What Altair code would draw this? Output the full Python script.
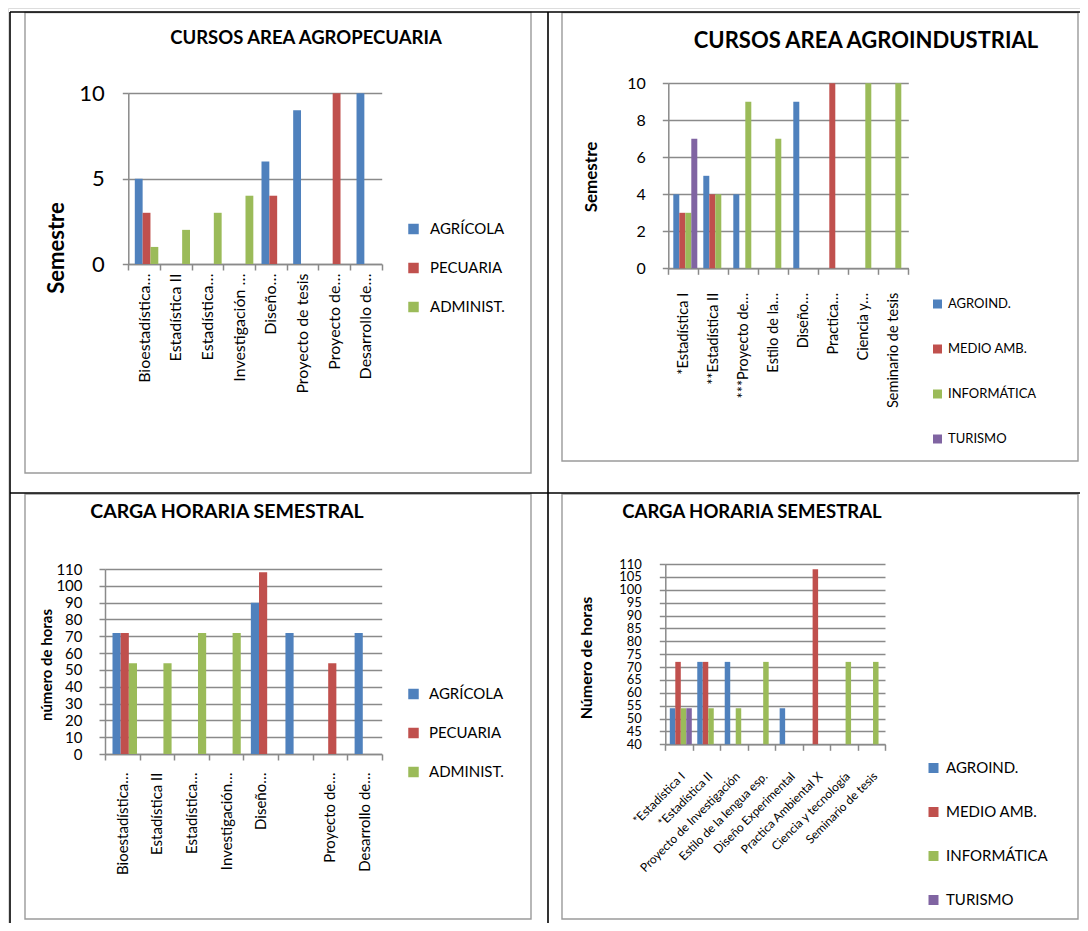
import altair as alt
import pandas as pd

FONT = "Lato"

# ---------------- data ----------------
c1_title = "CURSOS AREA AGROPECUARIA"
c1_ytitle = "Semestre"
c1_cats = ["Bioestadística…", "Estadística II", "Estadística…", "Investigación …",
           "Diseño…", "Proyecto de tesis", "Proyecto de…", "Desarrollo de…"]
c1_series = ["AGRÍCOLA", "PECUARIA", "ADMINIST."]
c1_agricola = [5, None, None, None, 6, 9, None, 10]
c1_pecuaria = [3, None, None, None, 4, None, 10, None]
c1_administ = [1, 2, 3, 4, None, None, None, None]
c1_yticks = [0, 5, 10]

c2_title = "CURSOS AREA AGROINDUSTRIAL"
c2_ytitle = "Semestre"
c2_cats = ["*Estadística I", "**Estadística II", "***Proyecto de…", "Estilo de la…",
           "Diseño…", "Practica…", "Ciencia y…", "Seminario de tesis"]
c2_series = ["AGROIND.", "MEDIO AMB.", "INFORMÁTICA", "TURISMO"]
c2_agroind = [4, 5, 4, None, 9, None, None, None]
c2_medio = [3, 4, None, None, None, 10, None, None]
c2_informatica = [3, 4, 9, 7, None, None, 10, 10]
c2_turismo = [7, None, None, None, None, None, None, None]
c2_yticks = [0, 2, 4, 6, 8, 10]

c3_title = "CARGA HORARIA SEMESTRAL"
c3_ytitle = "número de horas"
c3_cats = ["Bioestadística…", "Estadística II", "Estadística…", "Investigación…",
           "Diseño…", " ", "Proyecto de…", "Desarrollo de…"]
c3_series = ["AGRÍCOLA", "PECUARIA", "ADMINIST."]
c3_agricola = [72, None, None, None, 90, 72, None, 72]
c3_pecuaria = [72, None, None, None, 108, None, 54, None]
c3_administ = [54, 54, 72, 72, None, None, None, None]
c3_yticks = [0, 10, 20, 30, 40, 50, 60, 70, 80, 90, 100, 110]

c4_title = "CARGA HORARIA SEMESTRAL"
c4_ytitle = "Número de horas"
c4_cats = ["*Estadística I", "*Estadística II", "Proyecto de Investigación",
           "Estilo de la lengua esp.", "Diseño Experimental", "Practica Ambiental  X",
           "Ciencia y tecnología", "Seminario de tesis"]
c4_series = ["AGROIND.", "MEDIO AMB.", "INFORMÁTICA", "TURISMO"]
c4_agroind = [54, 72, 72, None, 54, None, None, None]
c4_medio = [72, 72, None, None, None, 108, None, None]
c4_informatica = [54, 54, 54, 72, None, None, 72, 72]
c4_turismo = [54, None, None, None, None, None, None, None]
c4_yticks = [40, 45, 50, 55, 60, 65, 70, 75, 80, 85, 90, 95, 100, 105, 110]

colors3 = ["#4F81BD", "#C0504D", "#9BBB59"]
colors4 = ["#4F81BD", "#C0504D", "#9BBB59", "#8064A2"]

GRID = "#8a8a8a"


def to_long(cats, series, columns):
    rows = []
    for s, vals in zip(series, columns):
        for c, v in zip(cats, vals):
            if v is not None:
                rows.append({"curso": c, "serie": s, "valor": v})
    return pd.DataFrame(rows)


def panel(df, cats, series, colors, xr, xoff, yr, ydom, yvals,
          ylab_size, ylab_pad, xlab_size, xlab_angle, xlab_pad, legend):
    return alt.Chart(df).mark_bar().encode(
        x=alt.X("curso:N", sort=cats,
                scale=alt.Scale(domain=cats, range=xr, paddingInner=0, paddingOuter=0),
                axis=alt.Axis(orient="bottom", offset=yr[0] - 915, title=None,
                              labelAngle=xlab_angle, labelFont=FONT, labelFontSize=xlab_size,
                              labelColor="black", labelPadding=xlab_pad, labelLimit=400,
                              labelOverlap=False, tickBand="extent",
                              tickSize=6, tickColor=GRID, tickWidth=1.5, domainColor=GRID,
                              domainWidth=1.5, grid=False)),
        xOffset=alt.XOffset("serie:N", sort=series,
                            scale=alt.Scale(domain=series, range=xoff,
                                            paddingInner=0, paddingOuter=0)),
        y=alt.Y("valor:Q",
                scale=alt.Scale(domain=ydom, range=yr, nice=False, zero=False),
                axis=alt.Axis(orient="left", offset=-xr[0], title=None, values=yvals,
                              labelFont=FONT, labelFontSize=ylab_size, labelColor="black",
                              labelPadding=ylab_pad, labelOverlap=False, tickSize=6,
                              tickColor=GRID, tickWidth=1.5, domainColor=GRID,
                              domainWidth=1.5, grid=True, gridColor=GRID, gridWidth=1.6)),
        y2=alt.datum(ydom[0]),
        color=alt.Color("serie:N", sort=series,
                        scale=alt.Scale(domain=series, range=colors), legend=legend),
    )


def legend(x, y, size, font, rowpad, offset):
    return alt.Legend(orient="none", legendX=x, legendY=y, direction="vertical",
                      title=None, symbolType="square", symbolSize=size,
                      symbolStrokeWidth=0, labelFont=FONT, labelFontSize=font,
                      labelColor="black", rowPadding=rowpad, labelOffset=offset,
                      padding=0)


def text(label, x, y, size, angle=0):
    return alt.Chart(pd.DataFrame({"t": [label]})).mark_text(
        font=FONT, fontWeight="bold", fontSize=size, angle=angle,
        align="center", baseline="middle", color="black"
    ).encode(x=alt.value(x), y=alt.value(y), text="t:N")


blank = alt.Data(values=[{}])


def frame(x0, x1, y0, y1):
    return alt.Chart(blank).mark_rect(fill="white", fillOpacity=0, stroke="#9a9a9a",
                                      strokeWidth=1.4).encode(
        x=alt.value(x0), x2=alt.value(x1), y=alt.value(y0), y2=alt.value(y1))


def hline(x0, x1, y):
    return alt.Chart(blank).mark_rule(color="black", strokeWidth=1.6).encode(
        x=alt.value(x0), x2=alt.value(x1), y=alt.value(y))


def vline(x, y0, y1):
    return alt.Chart(blank).mark_rule(color="black", strokeWidth=1.6).encode(
        x=alt.value(x), y=alt.value(y0), y2=alt.value(y1))


df1 = to_long(c1_cats, c1_series, [c1_agricola, c1_pecuaria, c1_administ])
df2 = to_long(c2_cats, c2_series, [c2_agroind, c2_medio, c2_informatica, c2_turismo])
df3 = to_long(c3_cats, c3_series, [c3_agricola, c3_pecuaria, c3_administ])
df4 = to_long(c4_cats, c4_series, [c4_agroind, c4_medio, c4_informatica, c4_turismo])

p1 = panel(df1, c1_cats, c1_series, colors3, [120.3, 373.7], [6.5, 30], [256, 85.3],
           [0, 10], c1_yticks, 22, 18, 16, -90, 3,
           legend(398, 213.5, 110, 15, 23, 9))
p2 = panel(df2, c2_cats, c2_series, colors4, [660.3, 900.3], [5, 29], [260.3, 75.3],
           [0, 10], c2_yticks, 16, 17, 14.5, -90, 18,
           legend(923, 289.5, 81, 13, 31, 4))
p3 = panel(df3, c3_cats, c3_series, colors3, [97, 373.7], [7.5, 32], [746, 561],
           [0, 110], c3_yticks, 15, 17, 15, -90, 12,
           legend(398, 678.5, 110, 15, 23, 8))
p4 = panel(df4, c4_cats, c4_series, colors4, [657.3, 877], [4.5, 26.5], [736.3, 556],
           [40, 110], c4_yticks, 13, 18, 12, -45, 20,
           legend(918, 752.5, 100, 15, 28, 5))

deco = [
    frame(17, 523, 4.5, 465), frame(554, 1070, 4.5, 453),
    frame(17, 523, 486, 911), frame(554, 1070, 486, 911),
    hline(2, 1072, 4), hline(2, 1072, 485),
    vline(2, 4, 915), vline(540, 4, 915),
    text(c1_title, 298, 30, 18.5),
    text(c2_title, 858, 33, 22),
    text(c3_title, 219, 504, 19.5),
    text(c4_title, 744, 504, 18.5),
    text(c1_ytitle, 49, 240, 22, 270),
    text(c2_ytitle, 584, 169, 17, 270),
    text(c3_ytitle, 39, 657, 15, 270),
    text(c4_ytitle, 579, 650, 16, 270),
]

chart = alt.layer(*deco, p1, p2, p3, p4).resolve_scale(
    x="independent", y="independent", color="independent", xOffset="independent"
).resolve_axis(x="independent", y="independent").resolve_legend(
    color="independent"
).properties(
    width=1072, height=915, padding=0,
    autosize=alt.AutoSizeParams(type="none"),
).configure_view(stroke=None).configure(background="white")

chart.save("out.html", embed_options={"renderer": "svg", "actions": False})
